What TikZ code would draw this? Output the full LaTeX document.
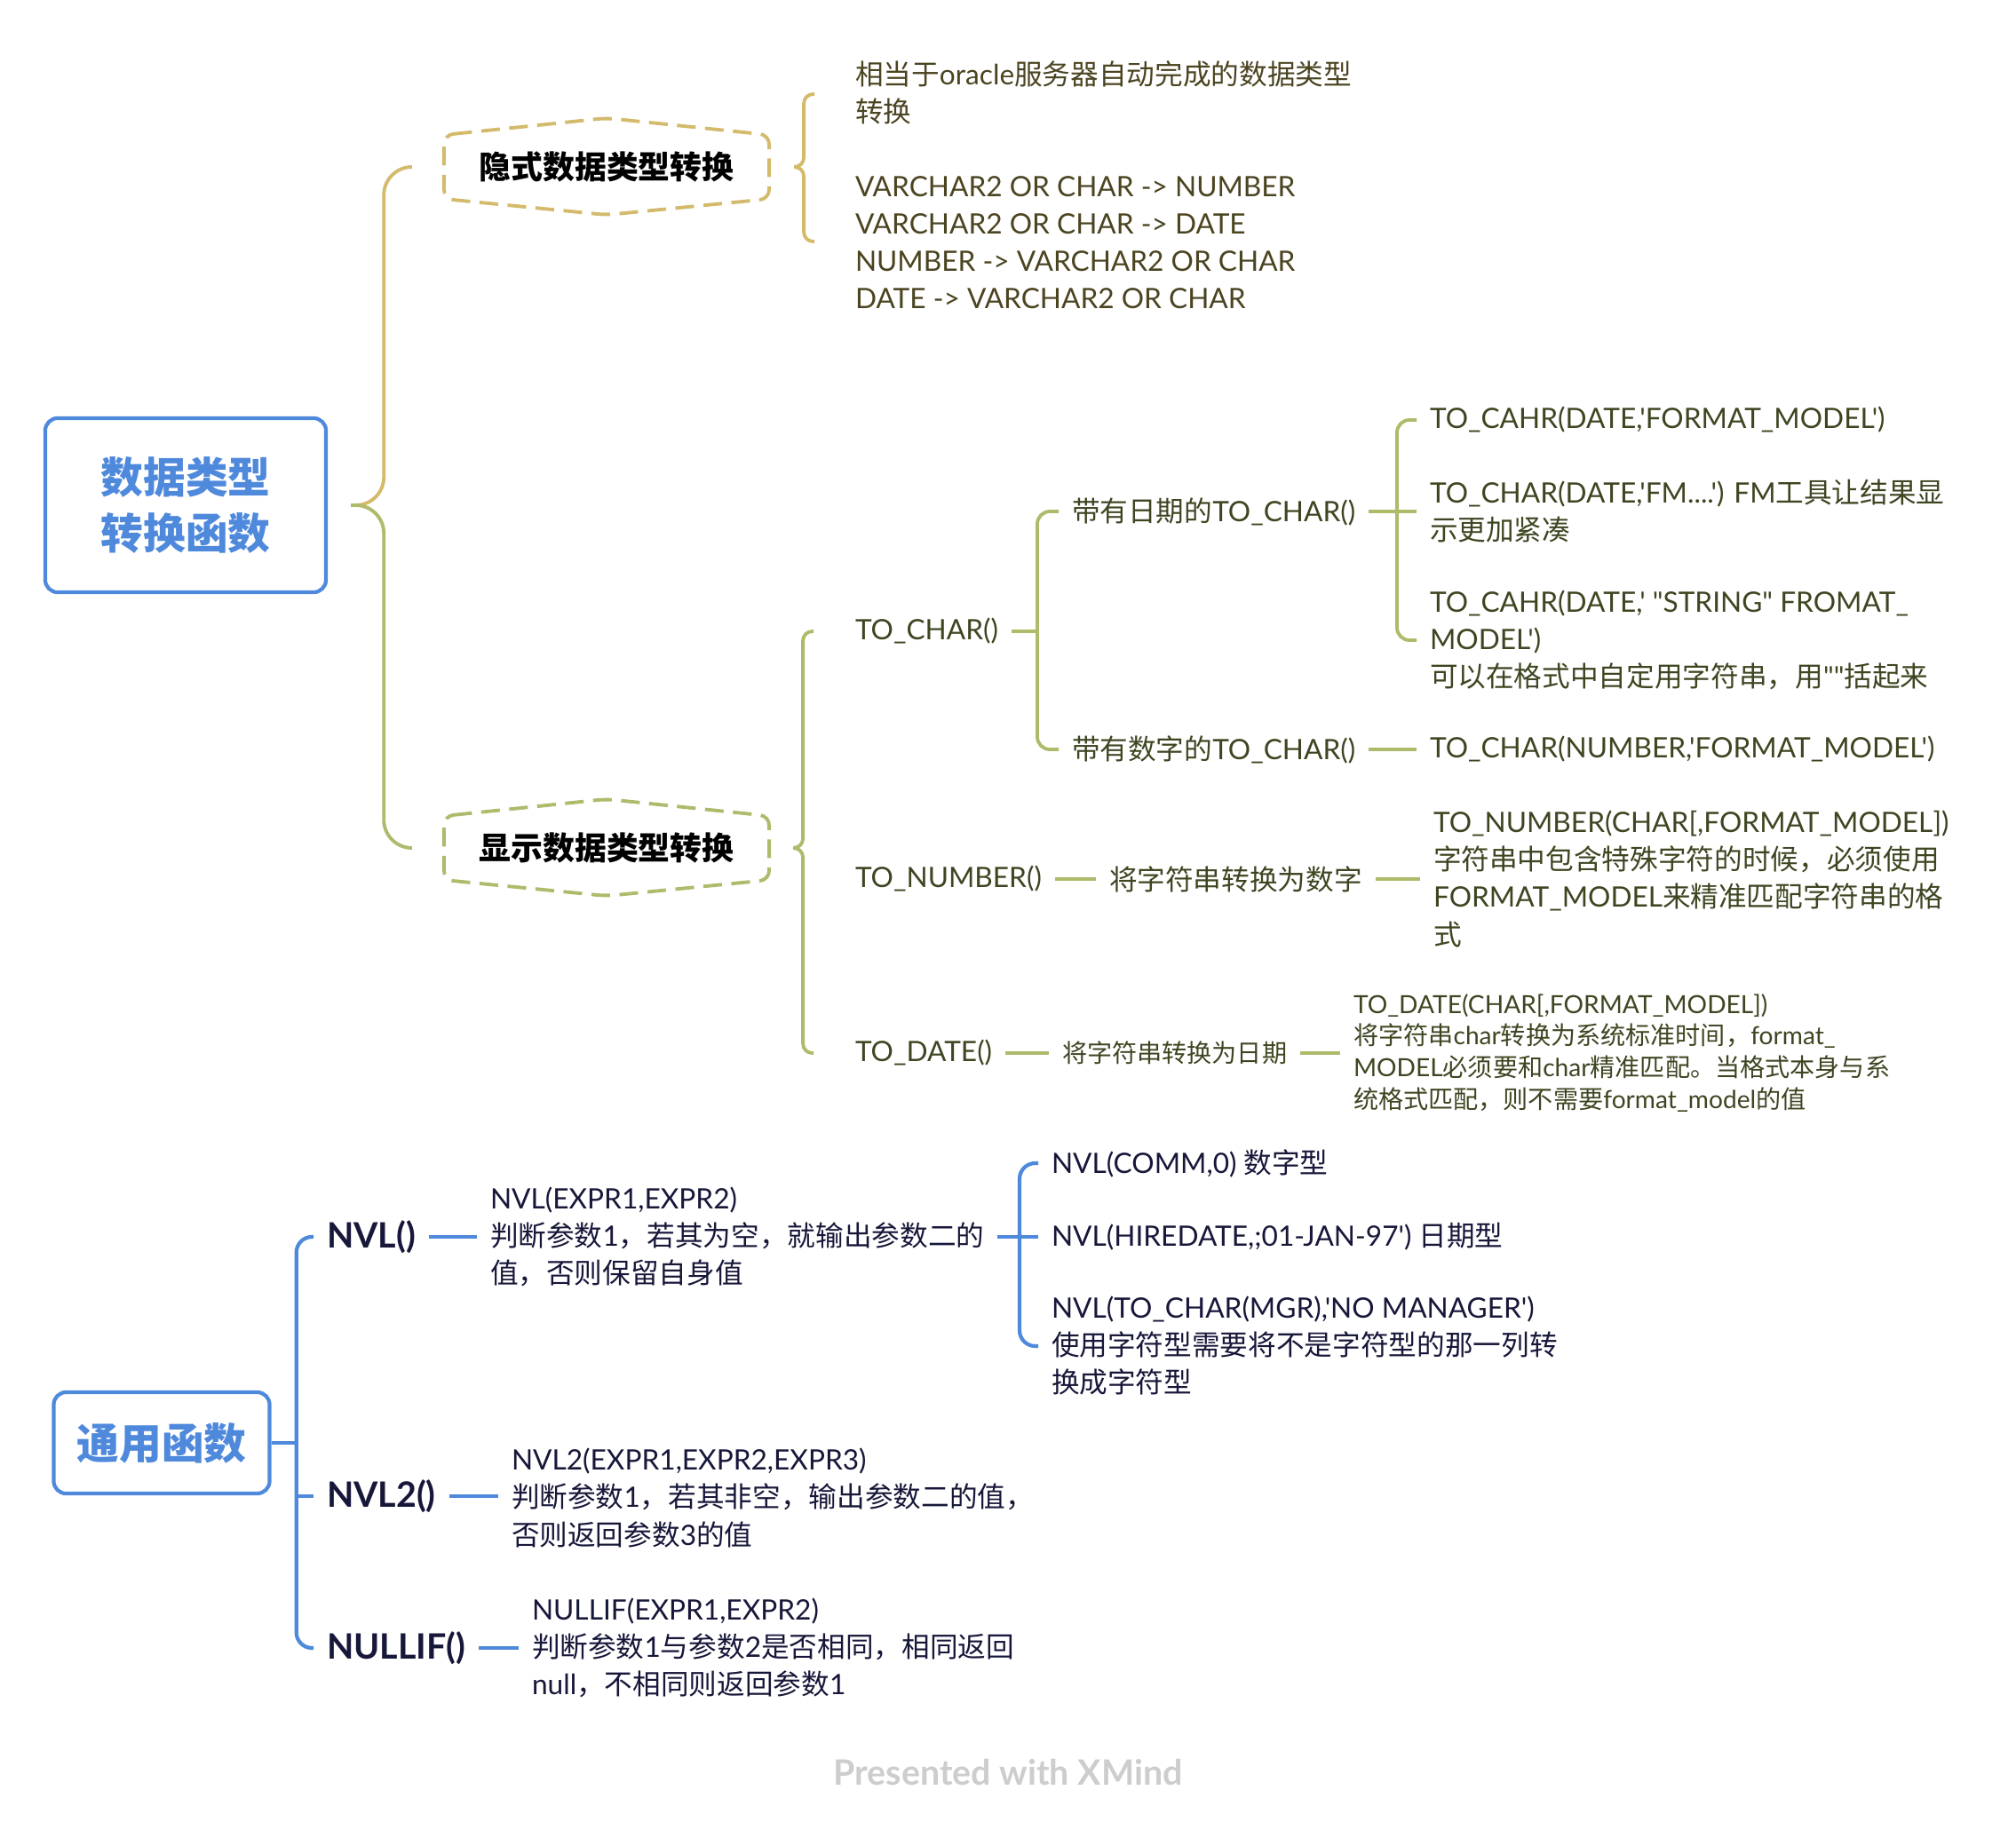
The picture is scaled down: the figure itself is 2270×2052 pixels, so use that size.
\documentclass[tikz,border=0pt]{standalone}
\usepackage{fontspec}
\usepackage{xcolor}
\usepackage{tikz}
\usetikzlibrary{calc, positioning}

\setmainfont{Lato}[Ligatures=TeXOff]
\newfontfamily\cjkfont{Noto Sans CJK SC}

% Chữ Hán tự động chuyển sang họ phông CJK
\XeTeXinterchartokenstate=1
\chardef\cjkclass=250
\newcount\cjkcode
\newcommand{\setcjkrange}[2]{%
  \cjkcode=#1
  \loop
    \XeTeXcharclass\cjkcode=\cjkclass
    \ifnum\cjkcode<#2 \advance\cjkcode by 1
  \repeat}
\setcjkrange{"3000}{"303F}
\setcjkrange{"4E00}{"9FFF}
\setcjkrange{"FF00}{"FFEF}
\newcommand{\cjkswitch}[1]{%
  \XeTeXinterchartoks #1 \cjkclass = {\cjkfont}%
  \XeTeXinterchartoks \cjkclass #1 = {\rmfamily}}
\cjkswitch{0}\cjkswitch{1}\cjkswitch{2}\cjkswitch{3}\cjkswitch{4095}
\XeTeXinterchartoks 4095 0 = {\rmfamily}

\definecolor{rootblue}{HTML}{4F89DC}
\definecolor{goldline}{HTML}{D3BB6B}
\definecolor{greenline}{HTML}{AFBA6B}
\definecolor{goldtext}{HTML}{4B4421}
\definecolor{greentext}{HTML}{3D4621}
\definecolor{navytext}{HTML}{17173A}
\definecolor{markgray}{HTML}{CDCDCD}

% Khung lục giác nét đứt quanh một nút chủ đề
\newcommand{\hexframe}[2]{%
  \draw[hexdash, draw=#2] (#1.north west) -- ($(#1.north)+(0,-19)$) -- (#1.north east)
    -- (#1.south east) -- ($(#1.south)+(0,18)$) -- (#1.south west) -- cycle;}

\begin{document}
\begin{tikzpicture}[x=0.01cm, y=-0.01cm,
    rootbox/.style={draw=rootblue, line width=1.2pt, rounded corners=4pt, text=rootblue,
      align=center, font=\bfseries\fontsize{13.6}{17.9}\selectfont},
    topicbox/.style={inner sep=0pt, outer sep=0pt, minimum width=3.66cm, minimum height=0.72cm,
      font=\bfseries\fontsize{10.2}{12}\selectfont},
    leaf/.style={anchor=west, align=left, inner sep=0pt, outer xsep=0.15cm,
      font=\fontsize{9}{11.95}\selectfont},
    smallleaf/.style={leaf, font=\fontsize{8}{10.2}\selectfont},
    goldleaf/.style={leaf, text=goldtext},
    greenleaf/.style={leaf, text=greentext},
    greensmall/.style={smallleaf, text=greentext},
    blueleaf/.style={leaf, text=navytext},
    bluetopic/.style={leaf, text=navytext, font=\bfseries\fontsize{11.2}{13}\selectfont},
    goldbranch/.style={draw=goldline, line width=1.1pt},
    greenbranch/.style={draw=greenline, line width=1.1pt},
    bluebranch/.style={draw=rootblue, line width=1.2pt},
    hexdash/.style={line width=1.1pt, dash pattern=on 6pt off 3pt, rounded corners=3pt}]

    \useasboundingbox (0,0) rectangle (2270,2052);

    % =================================================================
    % 1. HAI NÚT GỐC
    % =================================================================
    \node[rootbox, minimum width=3.16cm, minimum height=1.96cm] (convfunc) at (209,569) {数据类型\\转换函数};
    \node[rootbox, minimum width=2.43cm, minimum height=1.14cm] (genfunc) at (182,1625) {通用函数};

    % =================================================================
    % 2. HAI CHỦ ĐỀ CHUYỂN ĐỔI (khung lục giác nét đứt)
    % =================================================================
    \node[topicbox] (implicit) at (683,188) {隐式数据类型转换};
    \node[topicbox] (explicit) at (683,955) {显示数据类型转换};
    \hexframe{implicit}{goldline}
    \hexframe{explicit}{greenline}

    % Ngoặc nhọn từ nút gốc
    \coordinate (convcusp) at ($(convfunc.east)+(26,0)$);
    \draw[goldbranch, rounded corners=9pt] (convcusp) -- ++(37,0) |- ($(implicit.west)+(-36,0)$);
    \draw[greenbranch, rounded corners=9pt] (convcusp) -- ++(37,0) |- ($(explicit.west)+(-36,0)$);

    % =================================================================
    % 3. CHUYỂN ĐỔI NGẦM ĐỊNH
    % =================================================================
    \node[goldleaf] (implicitnote) at (948,208) {相当于oracle服务器自动完成的数据类型\\转换\\[11.95pt]VARCHAR2 OR CHAR -> NUMBER\\VARCHAR2 OR CHAR -> DATE\\NUMBER -> VARCHAR2 OR CHAR\\DATE -> VARCHAR2 OR CHAR};
    \coordinate (implicitcusp) at ($(implicit.east)+(28,0)$);
    \draw[goldbranch, rounded corners=3pt] (implicitcusp) -- ++(11,0) |- ++(12,-82);
    \draw[goldbranch, rounded corners=3pt] (implicitcusp) -- ++(11,0) |- ++(12,84);

    % =================================================================
    % 4. CHUYỂN ĐỔI TƯỜNG MINH
    % =================================================================
    \node[greenleaf] (tochar) at (948,711) {TO\_CHAR()};
    \node[greenleaf] (tonumber) at (948,990) {TO\_NUMBER()};
    \node[greenleaf] (todate) at (948,1186) {TO\_DATE()};
    \coordinate (explicitcusp) at ($(explicit.east)+(27,0)$);
    \draw[greenbranch, rounded corners=3pt] (explicitcusp) -- ++(11,0) |- ($(tochar.west)+(-32,0)$);
    \draw[greenbranch, rounded corners=3pt] (explicitcusp) -- ++(11,0) |- ($(todate.west)+(-32,0)$);

    % TO_CHAR() và hai nhánh con
    \node[greenleaf] (datechar) at (1192,576) {带有日期的TO\_CHAR()};
    \node[greenleaf] (numchar) at (1192,844) {带有数字的TO\_CHAR()};
    \coordinate (charfork) at ($(datechar.west |- tochar)+(-24,0)$);
    \draw[greenbranch] (tochar.east) -- (charfork);
    \draw[greenbranch, rounded corners=4pt] (datechar.west) -| (charfork) |- (numchar.west);

    \node[greenleaf] (fmtplain) at (1595,473) {TO\_CAHR(DATE,'FORMAT\_MODEL')};
    \node[greenleaf] (fmtfm) at (1595,575) {TO\_CHAR(DATE,'FM....') FM工具让结果显\\示更加紧凑};
    \node[greenleaf] (fmtstring) at (1595,721) {TO\_CAHR(DATE,' "STRING" FROMAT\_\\MODEL')\\可以在格式中自定用字符串，用""括起来};
    \coordinate (datefork) at ($(fmtplain.west |- datechar)+(-22,0)$);
    \draw[greenbranch] (datechar.east) -- (fmtfm.west |- datechar.east);
    \draw[greenbranch, rounded corners=4pt] (fmtplain.west) -| (datefork) |- (fmtstring.west);

    \node[greenleaf] (fmtnumber) at (1595,844) {TO\_CHAR(NUMBER,'FORMAT\_MODEL')};
    \draw[greenbranch] (numchar.east) -- (fmtnumber.west |- numchar.east);

    % TO_NUMBER()
    \node[greenleaf] (numdesc) at (1234,990) {将字符串转换为数字};
    \node[greenleaf] (numrule) at (1599,990) {TO\_NUMBER(CHAR[,FORMAT\_MODEL])\\字符串中包含特殊字符的时候，必须使用\\FORMAT\_MODEL来精准匹配字符串的格\\式};
    \draw[greenbranch] (tonumber.east) -- (numdesc.west |- tonumber.east);
    \draw[greenbranch] (numdesc.east) -- (numrule.west |- numdesc.east);

    % TO_DATE()
    \node[greensmall] (datedesc) at (1181,1186) {将字符串转换为日期};
    \node[greensmall] (daterule) at (1509,1186) {TO\_DATE(CHAR[,FORMAT\_MODEL])\\将字符串char转换为系统标准时间，format\_\\MODEL必须要和char精准匹配。当格式本身与系\\统格式匹配，则不需要format\_model的值};
    \draw[greenbranch] (todate.east) -- (datedesc.west |- todate.east);
    \draw[greenbranch] (datedesc.east) -- (daterule.west |- datedesc.east);

    % =================================================================
    % 5. HÀM THÔNG DỤNG
    % =================================================================
    \node[bluetopic] (nvl) at (353,1393) {NVL()};
    \node[bluetopic] (nvltwo) at (353,1685) {NVL2()};
    \node[bluetopic] (nullif) at (353,1856) {NULLIF()};
    \coordinate (genfork) at ($(genfunc.east)+(28,0)$);
    \draw[bluebranch] (genfunc.east) -- (genfork);
    \draw[bluebranch, rounded corners=5pt] (nvl.west) -| (genfork) |- (nullif.west);
    \draw[bluebranch] (nvltwo.west) -- (nvltwo.west -| genfork);

    % NVL()
    \node[blueleaf] (nvldesc) at (537,1393) {NVL(EXPR1,EXPR2)\\判断参数1，若其为空，就输出参数二的\\值，否则保留自身值};
    \draw[bluebranch] (nvl.east) -- (nvldesc.west |- nvl.east);
    \node[blueleaf] (nvlnum) at (1169,1310) {NVL(COMM,0) 数字型};
    \node[blueleaf] (nvldate) at (1169,1393) {NVL(HIREDATE,;01-JAN-97') 日期型};
    \node[blueleaf] (nvlchar) at (1169,1516) {NVL(TO\_CHAR(MGR),'NO MANAGER')\\使用字符型需要将不是字符型的那一列转\\换成字符型};
    \coordinate (nvlfork) at ($(nvlnum.west |- nvl)+(-21,0)$);
    \draw[bluebranch] (nvldesc.east |- nvldate.west) -- (nvldate.west);
    \draw[bluebranch, rounded corners=5pt] (nvlnum.west) -| (nvlfork) |- (nvlchar.west);

    % NVL2() và NULLIF()
    \node[blueleaf] (nvltwodesc) at (561,1687) {NVL2(EXPR1,EXPR2,EXPR3)\\判断参数1，若其非空，输出参数二的值，\\否则返回参数3的值};
    \draw[bluebranch] (nvltwo.east) -- (nvltwodesc.west |- nvltwo.east);
    \node[blueleaf] (nullifdesc) at (584,1856) {NULLIF(EXPR1,EXPR2)\\判断参数1与参数2是否相同，相同返回\\null，不相同则返回参数1};
    \draw[bluebranch] (nullif.east) -- (nullifdesc.west |- nullif.east);

    % Dòng chữ mờ phía dưới
    \node[font=\bfseries\fontsize{11.2}{13}\selectfont, text=markgray] (xmindmark) at (1135,1996) {Presented with XMind};

\end{tikzpicture}
\end{document}
